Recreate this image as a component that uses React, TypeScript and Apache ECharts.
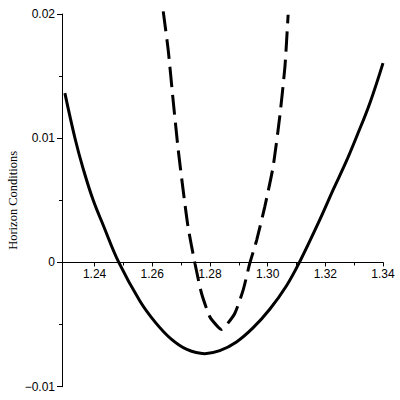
import React, { useEffect, useRef } from "react";
import * as echarts from "echarts";

const solidX = [1.2297, 1.2332, 1.2360, 1.2395, 1.2430, 1.2484, 1.2557, 1.2610, 1.2665, 1.2720, 1.2782, 1.2834, 1.2892, 1.2950, 1.3008, 1.3066, 1.3110, 1.3181, 1.3227, 1.3273, 1.3308, 1.3354, 1.3400];
const solidY = [0.01363, 0.0100, 0.00758, 0.00502, 0.00300, 0.0, -0.0031, -0.0048, -0.00615, -0.0070, -0.00734, -0.0071, -0.0064, -0.00525, -0.00375, -0.00185, 0.0, 0.00345, 0.00584, 0.00815, 0.0101, 0.0128, 0.01605];

const dashX = [1.2638, 1.2655, 1.2672, 1.2690, 1.2707, 1.2724, 1.2748, 1.2771, 1.2800, 1.2828, 1.2840, 1.2852, 1.2886, 1.2915, 1.2938, 1.2962, 1.2990, 1.3019, 1.3042, 1.3060, 1.3071];
const dashY = [0.02021, 0.01715, 0.01312, 0.00906, 0.00583, 0.00287, -0.00008, -0.0025, -0.00439, -0.00519, -0.0054, -0.00519, -0.00411, -0.00223, -0.00008, 0.0018, 0.00448, 0.00771, 0.01174, 0.01577, 0.01994];

const xMin = 1.2287;
const xMax = 1.34;
const xTickMin = 1.24;
const xStep = 0.02;
const yMin = -0.01;
const yMax = 0.02;
const yStep = 0.01;
const yTitle = "Horizon Conditions";

export default function App() {
  const ref = useRef<HTMLDivElement>(null);
  useEffect(() => {
    if (!ref.current) return;
    const chart = echarts.init(ref.current, null, { renderer: "svg" });
    const pairs = (xs: number[], ys: number[]) => xs.map((x, i) => [x, ys[i]]);
    const left = 62;
    const right = 17;
    const top = 14;
    const bottom = 13.3;
    const plotW = 400 - left - right;
    const plotH = 400 - top - bottom;
    const tickLeft = left + ((xTickMin - xMin) / (xMax - xMin)) * plotW;
    const zeroY = top + ((yMax - 0) / (yMax - yMin)) * plotH;
    const labelFont = "Liberation Sans, Arial, sans-serif";
    chart.setOption({
      animation: false,
      backgroundColor: "#ffffff",
      grid: [
        { left, right, top, bottom, containLabel: false, outerBoundsMode: "none" },
        { left: tickLeft, right, top, bottom: 400 - zeroY, containLabel: false, outerBoundsMode: "none" },
      ],
      xAxis: [
        {
          type: "value",
          gridIndex: 0,
          min: xMin,
          max: xMax,
          splitLine: { show: false },
          axisLine: { onZero: true, lineStyle: { color: "#000", width: 1 } },
          axisTick: { show: false },
          minorTick: { show: false },
          axisLabel: { show: false },
        },
        {
          type: "value",
          gridIndex: 1,
          min: xTickMin,
          max: xMax,
          interval: xStep,
          splitLine: { show: false },
          axisLine: { show: true, onZero: false, lineStyle: { color: "#000", width: 1 } },
          axisTick: { show: true, length: 4, lineStyle: { color: "#000" } },
          minorTick: { show: true, splitNumber: 2, length: 3, lineStyle: { color: "#000" } },
          axisLabel: {
            color: "#000",
            fontFamily: labelFont,
            fontSize: 12,
            margin: 6,
            formatter: (v: number) => v.toFixed(2),
          },
        },
      ],
      yAxis: [
        {
          type: "value",
          gridIndex: 0,
          min: yMin,
          max: yMax,
          interval: yStep,
          splitLine: { show: false },
          axisLine: { show: true, onZero: false, lineStyle: { color: "#000", width: 1 } },
          axisTick: { show: true, length: 5, lineStyle: { color: "#000" } },
          minorTick: { show: true, splitNumber: 2, length: 3, lineStyle: { color: "#000" } },
          axisLabel: {
            color: "#000",
            fontFamily: labelFont,
            fontSize: 12,
            margin: 7,
            formatter: (v: number) => (v === 0 ? "0" : v < 0 ? "\u2212" + Math.abs(v).toFixed(2) : v.toFixed(2)),
          },
          name: yTitle,
          nameLocation: "middle",
          nameGap: 43,
          nameMoveOverlap: false,
          nameTextStyle: {
            color: "#000",
            fontFamily: "Liberation Serif, Times New Roman, serif",
            fontSize: 12.5,
          },
        },
        {
          type: "value",
          gridIndex: 1,
          min: 0,
          max: 1,
          show: false,
        },
      ],
      series: [
        {
          type: "line",
          xAxisIndex: 0,
          yAxisIndex: 0,
          data: pairs(solidX, solidY),
          showSymbol: false,
          smooth: 0.4,
          clip: false,
          lineStyle: { color: "#000", width: 3 },
        },
        {
          type: "line",
          xAxisIndex: 0,
          yAxisIndex: 0,
          data: pairs(dashX, dashY),
          showSymbol: false,
          smooth: 0.2,
          clip: false,
          lineStyle: { color: "#000", width: 3, type: [20, 8] },
        },
      ],
    });
    return () => chart.dispose();
  }, []);
  return <div ref={ref} style={{ width: 400, height: 400, position: "fixed", left: 0, top: 0 }} />;
}
